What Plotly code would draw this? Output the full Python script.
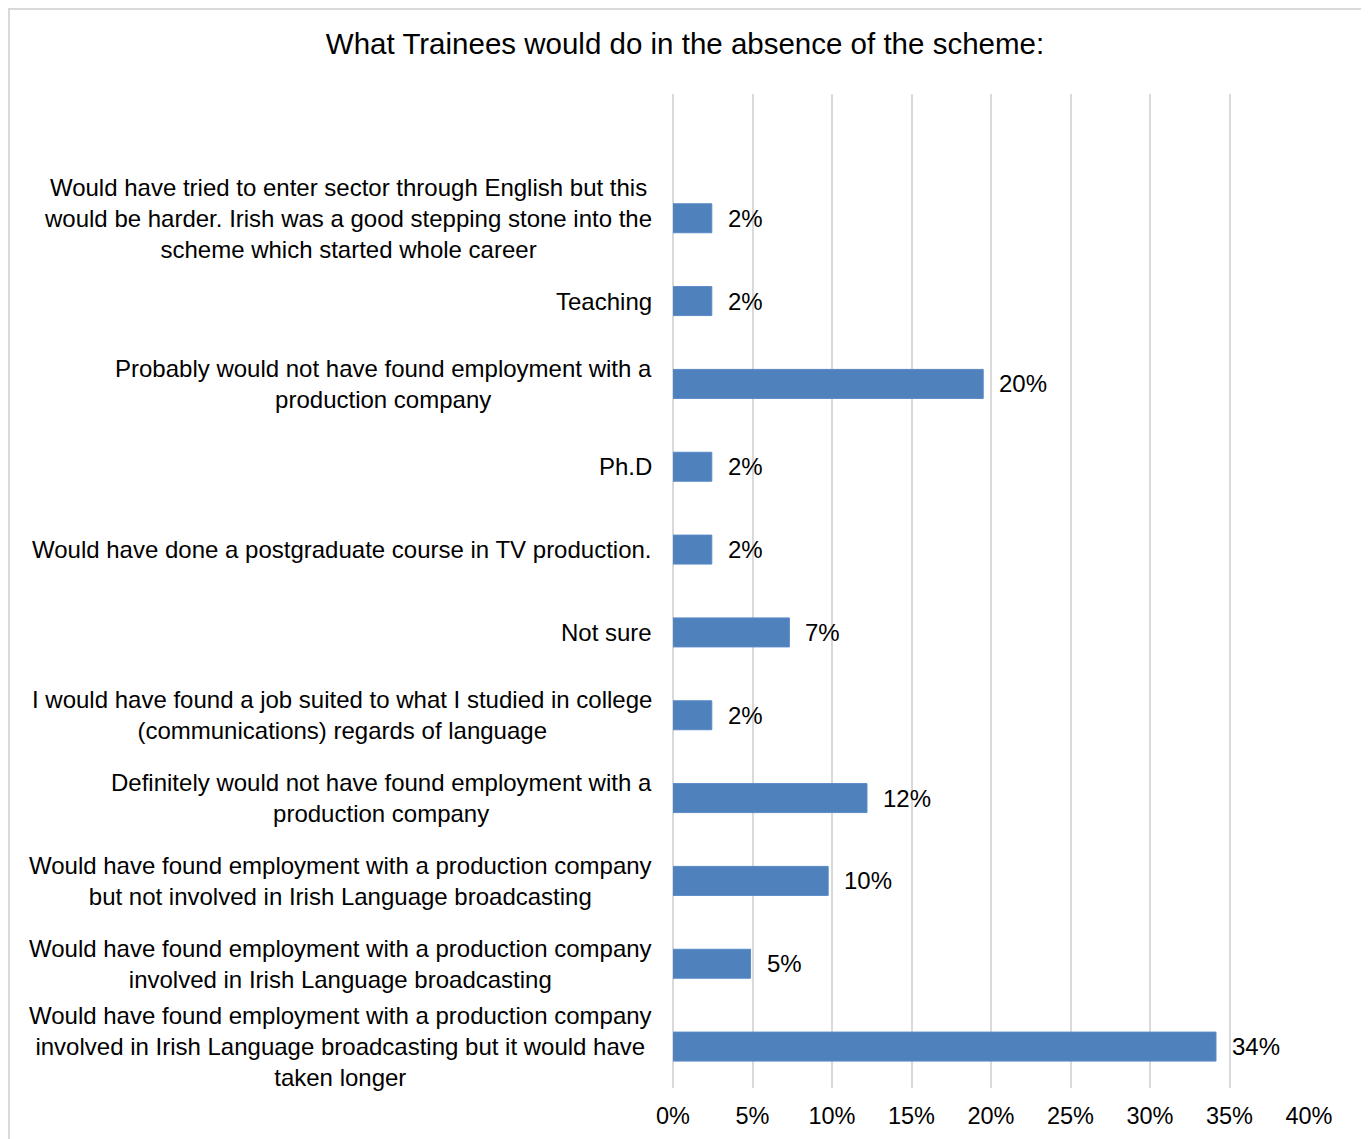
import plotly.graph_objects as go

# Data (top-to-bottom order as shown in the chart)
categories = [
    "Would have tried to enter sector through English but this<br>would be harder. Irish was a good stepping stone into the<br>scheme which started whole career",
    "Teaching",
    "Probably would not have found employment with a<br>production company",
    "Ph.D",
    "Would have done a postgraduate course in TV production.",
    "Not sure",
    "I would have found a job suited to what I studied in college<br>(communications) regards of language",
    "Definitely would not have found employment with a<br>production company",
    "Would have found employment with a production company<br>but not involved in Irish Language broadcasting",
    "Would have found employment with a production company<br>involved in Irish Language broadcasting",
    "Would have found employment with a production company<br>involved in Irish Language broadcasting but it would have<br>taken longer",
]
values = [0.0244, 0.0244, 0.1951, 0.0244, 0.0244, 0.0732, 0.0244, 0.1220, 0.0976, 0.0488, 0.3415]
value_labels = ["2%", "2%", "20%", "2%", "2%", "7%", "2%", "12%", "10%", "5%", "34%"]
x_tick_vals = [0, 0.05, 0.10, 0.15, 0.20, 0.25, 0.30, 0.35, 0.40]
x_tick_text = ["0%", "5%", "10%", "15%", "20%", "25%", "30%", "35%", "40%"]
title_text = "What Trainees would do in the absence of the scheme:"

FONT = "Arial, 'Liberation Sans', sans-serif"
W, H = 1369, 1139
OFF = 8  # page body margin offset
ML, MT = 673 - OFF, 94 - OFF
MR = W - (1309 - OFF)
MB = H - (1088 - OFF)

fig = go.Figure()
fig.add_trace(go.Bar(
    x=values, y=categories, orientation="h",
    width=0.35,
    marker=dict(color="#4F81BD", line=dict(color="#5A8AC6", width=1)),
    hoverinfo="skip",
))

annotations = []
for c, v, t in zip(categories, values, value_labels):
    annotations.append(dict(x=v, y=c, xref="x", yref="y", text=t, showarrow=False,
                            xanchor="left", yanchor="middle", xshift=14,
                            font=dict(family=FONT, size=24, color="#000000")))
    annotations.append(dict(x=0, y=c, xref="paper", yref="y", text=c, showarrow=False,
                            xanchor="right", yanchor="middle", align="center", xshift=-19,
                            font=dict(family=FONT, size=24, color="#000000")))

pw = W - ML - MR
ph = H - MT - MB
border = dict(type="rect", xref="paper", yref="paper",
              x0=(1 - ML) / pw, x1=(1363 - OFF - ML) / pw,
              y0=-(H + 10 - (H - MB)) / ph, y1=1 + (MT - 1) / ph,
              line=dict(color="#D9D9D9", width=2), fillcolor="rgba(0,0,0,0)", layer="below")

fig.update_layout(
    width=W, height=H,
    margin=dict(l=ML, r=MR, t=MT, b=MB, pad=0),
    paper_bgcolor="white", plot_bgcolor="white",
    showlegend=False,
    title=dict(text=title_text, x=(685 - OFF) / W, xref="container", xanchor="center",
               y=1 - (44 - OFF) / H, yref="container", yanchor="middle",
               font=dict(family=FONT, size=29.5, color="#000000")),
    xaxis=dict(range=[0, 0.40], tickvals=x_tick_vals, ticktext=x_tick_text,
               showgrid=True, gridcolor="#D9D9D9", gridwidth=2,
               zeroline=True, zerolinecolor="#D9D9D9", zerolinewidth=2,
               showline=False, ticks="", ticklabelstandoff=11,
               tickfont=dict(family=FONT, size=23.5, color="#000000"), fixedrange=True),
    yaxis=dict(type="category", categoryorder="array", categoryarray=categories,
               range=[10.5, -1.5], showticklabels=False, showgrid=False,
               zeroline=False, showline=False, ticks="", fixedrange=True),
    annotations=annotations,
    shapes=[border],
)

fig.write_html("out.html")
